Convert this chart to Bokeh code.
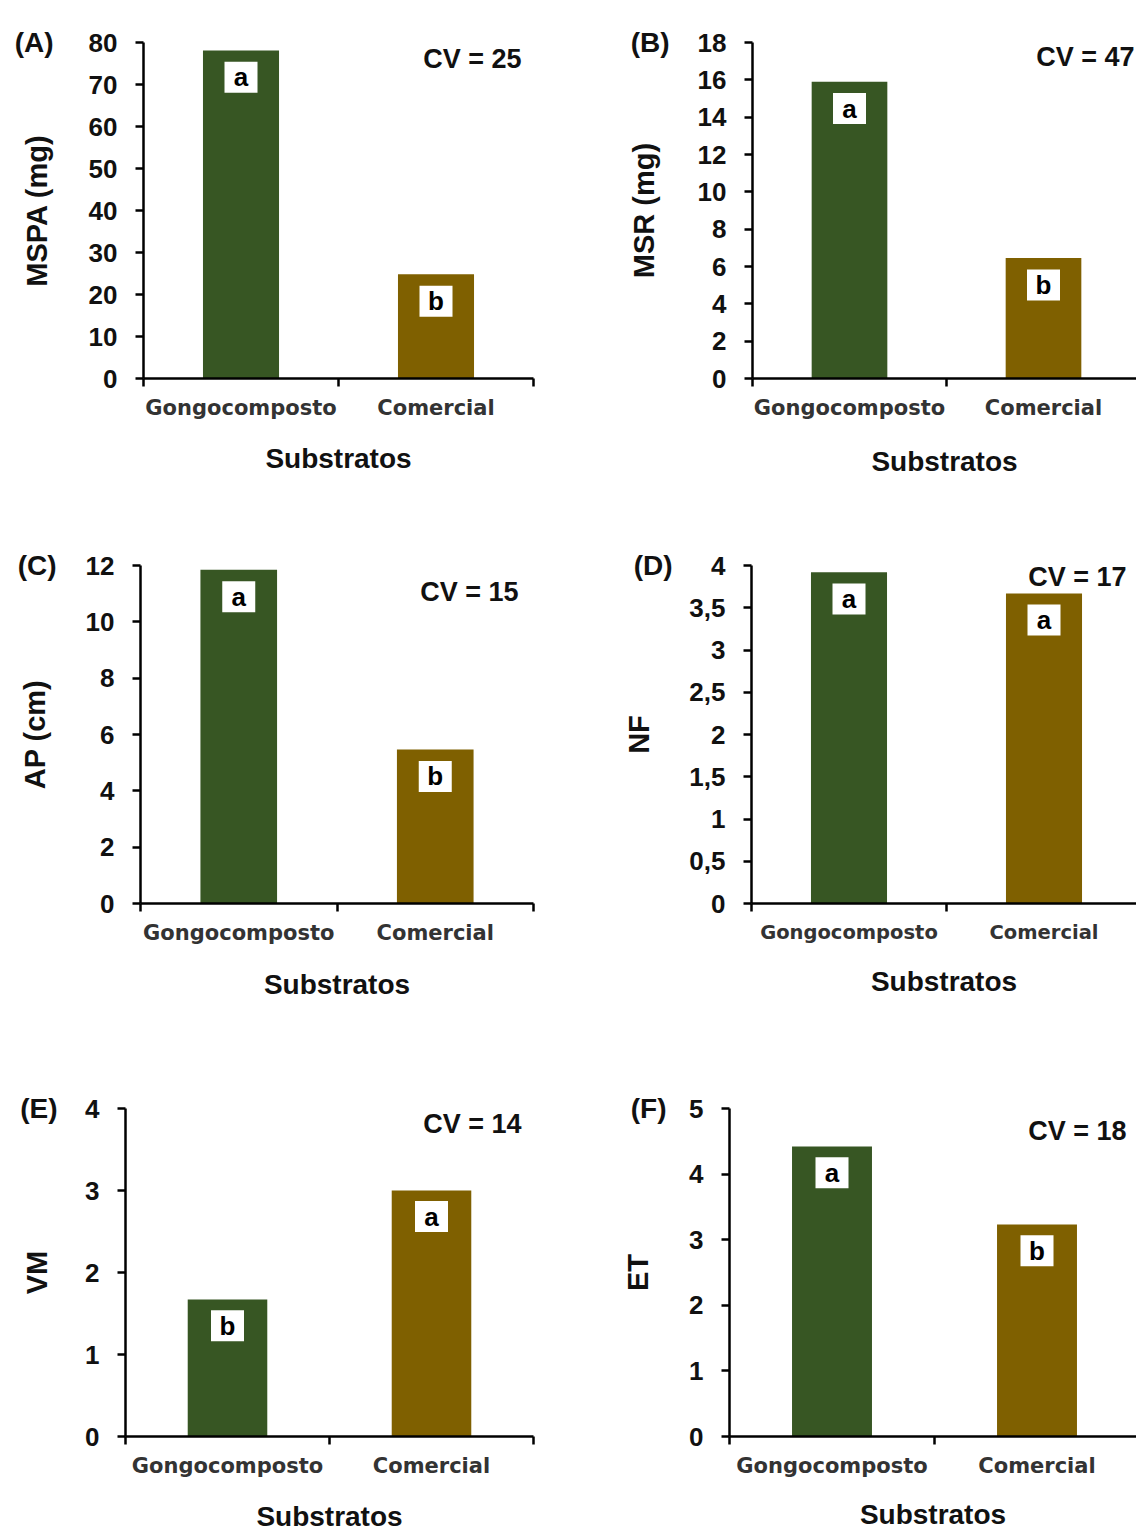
from bokeh.plotting import figure
from bokeh.layouts import column, row
from bokeh.models import Range1d, FixedTicker, Label, LinearAxis
from bokeh.embed import file_html
from bokeh.resources import INLINE
from bokeh.core.properties import value

# ---------------- data ----------------
categories = ["Gongocomposto", "Comercial"]
bar_colors = ["#375623", "#7F6000"]
x_title = "Substratos"

panel_tags = ["(A)", "(B)", "(C)", "(D)", "(E)", "(F)"]
y_titles = ["MSPA (mg)", "MSR (mg)", "AP (cm)", "NF", "VM", "ET"]
cv_values = [25, 47, 15, 17, 14, 18]

mspa = [78.1, 24.8]
msr = [15.9, 6.45]
ap = [11.85, 5.47]
nf = [3.92, 3.67]
vm = [1.67, 3.0]
et = [4.42, 3.23]

letters_mspa = ["a", "b"]
letters_msr = ["a", "b"]
letters_ap = ["a", "b"]
letters_nf = ["a", "a"]
letters_vm = ["b", "a"]
letters_et = ["a", "b"]

ticks_mspa = [0, 10, 20, 30, 40, 50, 60, 70, 80]
ticks_msr = [0, 2, 4, 6, 8, 10, 12, 14, 16, 18]
ticks_ap = [0, 2, 4, 6, 8, 10, 12]
ticks_nf = [0, 0.5, 1, 1.5, 2, 2.5, 3, 3.5, 4]
tick_labels_nf = ["0", "0,5", "1", "1,5", "2", "2,5", "3", "3,5", "4"]
ticks_vm = [0, 1, 2, 3, 4]
ticks_et = [0, 1, 2, 3, 4, 5]

# ---------------- layout (page pixel geometry) ----------------
# (fig_x, fig_y, width, height, frame_left, frame_top, frame_right, frame_bottom, category_px)
geoms = [
    (0, 0, 588, 510, 143, 40, 533, 378, 195),
    (588, 0, 548, 510, 752, 42, 1136, 379, 194),
    (0, 510, 588, 540, 140, 565, 533, 903, 196.5),
    (588, 510, 548, 540, 751, 565, 1136, 907, 195),
    (0, 1050, 588, 488, 125, 1097, 533, 1436, 204),
    (588, 1050, 548, 488, 729, 1108, 1136, 1447, 205),
]
cv_pos = [(521, 57), (1134, 57), (518, 591), (1126, 577), (521, 1113), (1126, 1131)]
ylab_standoff = [33, 35, 32, 31, 29, 32]
tag_standoff = [-36, -45, -41, -52, -39, -47]
xlab_standoff = [20, 23, 21, 19, 20, 18]
cat_font = ["21px", "21px", "21px", "19.5px", "21px", "21px"]

ARIAL = "Liberation Sans"
CATF = "DejaVu Sans"


def make_panel(i, vals, letters, ticks, tick_labels, ymax):
    ox, oy, w, h, L, T, R, B, cw = geoms[i]
    fw, fh = R - L, B - T
    xend = fw / cw
    p = figure(width=w, height=h, x_range=Range1d(0, xend), y_range=Range1d(0, ymax),
               output_backend="svg", toolbar_location=None, tools="",
               min_border_left=L - ox, min_border_right=ox + w - R,
               min_border_top=T - oy, min_border_bottom=oy + h - B)
    p.outline_line_color = None
    p.xgrid.visible = False
    p.ygrid.visible = False
    p.background_fill_color = "white"
    p.border_fill_color = "white"

    xs = [k + 0.5 for k in range(len(categories))]
    p.vbar(x=xs, top=vals, bottom=0, width=0.39, fill_color=bar_colors, line_color=None)

    # letter boxes
    off = 27 * ymax / fh
    by = [v - off for v in vals]
    p.rect(x=xs, y=by, width=33, height=31, width_units="screen", height_units="screen",
           fill_color="white", line_color=None)
    p.text(x=xs, y=by, text=letters, text_align="center", text_baseline="middle",
           text_font=value(ARIAL), text_font_style="bold", text_font_size="26px",
           text_color="black")

    # x axis
    xa = p.xaxis[0]
    xa.ticker = FixedTicker(ticks=xs, minor_ticks=list(range(len(categories) + 1)))
    xa.major_label_overrides = {x: c for x, c in zip(xs, categories)}
    xa.major_tick_out = 0
    xa.major_tick_in = 0
    xa.minor_tick_out = 8
    xa.minor_tick_in = 0
    xa.minor_tick_line_width = 2.5
    xa.minor_tick_line_color = "black"
    xa.axis_line_width = 2.5
    xa.axis_line_color = "black"
    xa.major_label_text_font = CATF
    xa.major_label_text_font_style = "bold"
    xa.major_label_text_font_size = cat_font[i]
    xa.major_label_text_color = "#333333"
    xa.major_label_standoff = 9
    xa.axis_label = x_title
    xa.axis_label_text_font = ARIAL
    xa.axis_label_text_font_style = "bold"
    xa.axis_label_text_font_size = "28px"
    xa.axis_label_text_color = "#111111"
    xa.axis_label_standoff = xlab_standoff[i]

    # y axis
    ya = p.yaxis[0]
    ya.ticker = FixedTicker(ticks=ticks)
    if tick_labels is not None:
        ya.major_label_overrides = {t: s for t, s in zip(ticks, tick_labels)}
    ya.major_tick_out = 8
    ya.major_tick_in = 0
    ya.major_tick_line_width = 2.5
    ya.minor_tick_line_color = None
    ya.axis_line_width = 2.5
    ya.axis_line_color = "black"
    ya.major_label_text_font = ARIAL
    ya.major_label_text_font_style = "bold"
    ya.major_label_text_font_size = "26px"
    ya.major_label_text_color = "#111111"
    ya.major_label_standoff = 18
    ya.axis_label = y_titles[i]
    ya.axis_label_text_font = ARIAL
    ya.axis_label_text_font_style = "bold"
    ya.axis_label_text_font_size = "29px"
    ya.axis_label_text_color = "#111111"
    ya.axis_label_standoff = ylab_standoff[i]

    # panel tag: an outer, line-less left axis with one labelled tick at the top
    tag_axis = LinearAxis(ticker=FixedTicker(ticks=[ymax]),
                          major_label_overrides={ymax: panel_tags[i]},
                          axis_line_color=None, major_tick_line_color=None,
                          minor_tick_line_color=None, major_tick_out=0, major_tick_in=0,
                          major_label_standoff=tag_standoff[i],
                          major_label_text_font=ARIAL, major_label_text_font_style="bold",
                          major_label_text_font_size="28px", major_label_text_color="#111111")
    p.add_layout(tag_axis, "left")

    # CV annotation (inside the frame)
    cx, cy = cv_pos[i]
    p.add_layout(Label(x=(cx - L) / cw, y=(B - cy) / fh * ymax, text="CV = %d" % cv_values[i],
                       text_align="right", text_baseline="middle", text_font=ARIAL,
                       text_font_style="bold", text_font_size="27px", text_color="#111111"))
    return p


pA = make_panel(0, mspa, letters_mspa, ticks_mspa, None, 80)
pB = make_panel(1, msr, letters_msr, ticks_msr, None, 18)
pC = make_panel(2, ap, letters_ap, ticks_ap, None, 12)
pD = make_panel(3, nf, letters_nf, ticks_nf, tick_labels_nf, 4)
pE = make_panel(4, vm, letters_vm, ticks_vm, None, 4)
pF = make_panel(5, et, letters_et, ticks_et, None, 5)

page = column(row(pA, pB, spacing=0), row(pC, pD, spacing=0), row(pE, pF, spacing=0), spacing=0)

open("out.html", "w").write(file_html(page, INLINE))
